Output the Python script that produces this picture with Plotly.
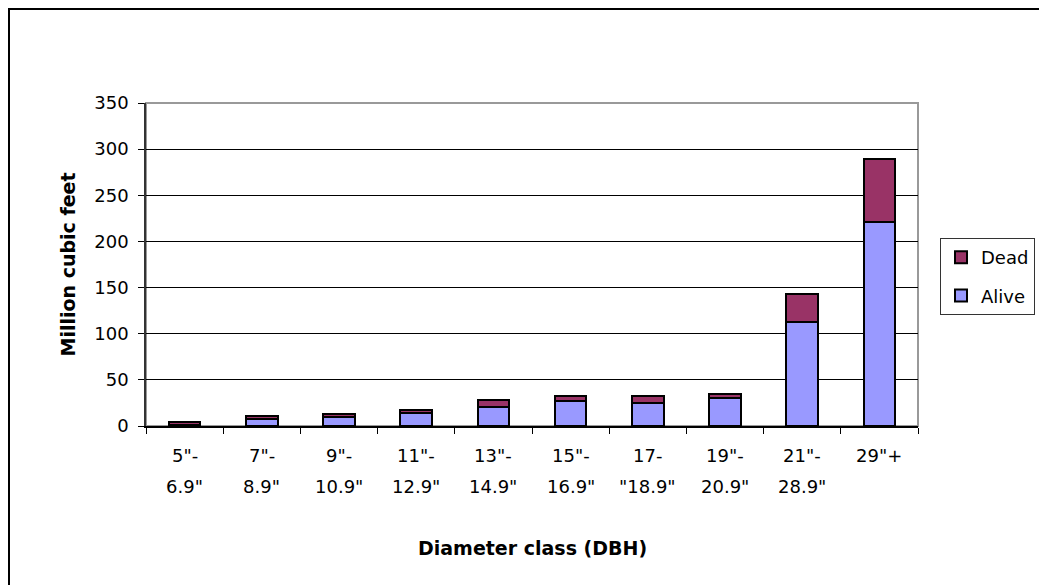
import plotly.graph_objects as go

categories = ['5"- 6.9"', '7"- 8.9"', '9"- 10.9"', '11"- 12.9"', '13"- 14.9"',
              '15"- 16.9"', '17- "18.9"', '19"- 20.9"', '21"- 28.9"', '29"+']
label_line1 = ['5"-', '7"-', '9"-', '11"-', '13"-', '15"-', '17-', '19"-', '21"-', '29"+']
label_line2 = ['6.9"', '8.9"', '10.9"', '12.9"', '14.9"', '16.9"', '"18.9"', '20.9"', '28.9"', '']
alive = [1.5, 7.6, 9.7, 14.5, 20.7, 27.3, 25.3, 30.0, 112.3, 220.7]
dead = [2.8, 3.4, 3.6, 2.8, 7.5, 5.2, 7.2, 5.0, 30.5, 68.3]
y_ticks = [0, 50, 100, 150, 200, 250, 300, 350]

FONT = "DejaVu Sans, Arial, sans-serif"

L, R, T, B = 138, 137, 95, 167
W, H = 1047, 585
PW, PH = W - L - R, H - T - B

fig = go.Figure()
fig.add_trace(go.Bar(x=categories, y=alive, name="Alive", legendgroup="a", legendrank=2,
                     marker=dict(color="#9999FF", line=dict(color="black", width=2))))
fig.add_trace(go.Bar(x=categories, y=dead, name="Dead", legendgroup="d", legendrank=1,
                     marker=dict(color="#993366", line=dict(color="black", width=2))))

# two-line category labels
for c, l1, l2 in zip(categories, label_line1, label_line2):
    fig.add_annotation(x=c, xref="x", y=-0.0898, yref="paper", text=l1, showarrow=False,
                       yanchor="middle", font=dict(size=18, color="black", family=FONT))
    if l2:
        fig.add_annotation(x=c, xref="x", y=-0.1858, yref="paper", text=l2, showarrow=False,
                           yanchor="middle", font=dict(size=18, color="black", family=FONT))

# axis titles
fig.add_annotation(x=0.5, xref="paper", y=-0.3777, yref="paper", text="<b>Diameter class (DBH)</b>",
                   showarrow=False, yanchor="middle", font=dict(size=19, color="black", family=FONT))
fig.add_annotation(x=-0.1023, xref="paper", y=0.5, yref="paper", text="<b>Million cubic feet</b>",
                   showarrow=False, textangle=-90, xanchor="center", yanchor="middle",
                   font=dict(size=19, color="black", family=FONT))

# plot-area border (gray) and outer chart frame
fig.add_shape(type="rect", xref="paper", yref="paper", x0=0, x1=1, y0=0, y1=1,
              line=dict(color="#999999", width=2), layer="below")
fig.add_shape(type="rect", xref="paper", yref="paper",
              x0=(1 - L) / PW, x1=1.5, y0=-1.0, y1=1 + (T - 1) / PH,
              line=dict(color="black", width=2), fillcolor="rgba(0,0,0,0)")

fig.update_layout(
    width=W, height=H,
    margin=dict(l=L, r=R, t=T, b=B),
    paper_bgcolor="white", plot_bgcolor="white",
    barmode="stack", bargap=0.59,
    font=dict(family=FONT, size=18, color="black"),
    showlegend=True,
    legend=dict(x=1.0285, xanchor="left", y=0.582, yanchor="top",
                traceorder="grouped", tracegroupgap=12,
                bordercolor="#333333", borderwidth=1, bgcolor="white",
                font=dict(size=18, family=FONT, color="black")),
)
fig.update_xaxes(showticklabels=False, ticks="outside", tickson="boundaries", ticklen=6,
                 tickcolor="black", showline=True, linecolor="black", linewidth=1.5,
                 showgrid=False)
fig.update_yaxes(range=[0, 350], tickvals=y_ticks, ticks="outside", ticklen=6, tickcolor="black",
                 showline=True, linecolor="#333333", linewidth=1.5,
                 showgrid=True, gridcolor="black", gridwidth=1, zeroline=False,
                 tickfont=dict(size=18, family=FONT, color="black"), ticklabelstandoff=6)

fig.write_html("out.html")
